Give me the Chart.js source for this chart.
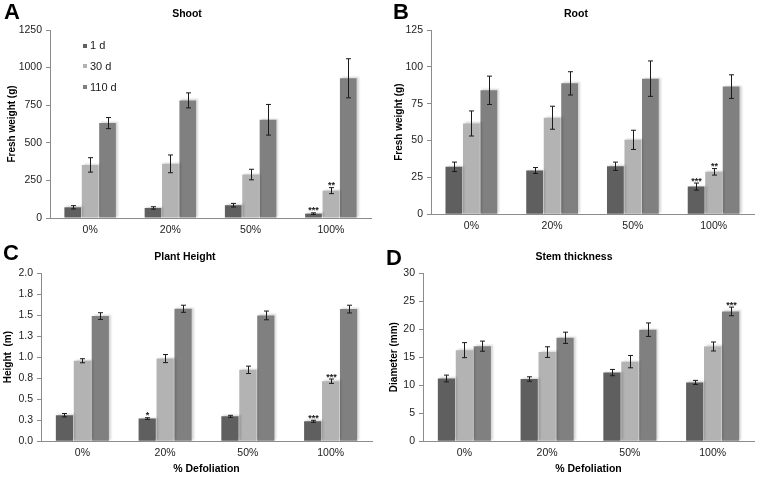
<!DOCTYPE html>
<html><head><meta charset="utf-8">
<script src="https://cdn.jsdelivr.net/npm/chart.js@4.4.1/dist/chart.umd.min.js"></script>
<style>
html,body{margin:0;padding:0;background:#fff;}
body{width:764px;height:478px;position:relative;overflow:hidden;font-family:"Liberation Sans",Arial,sans-serif;}
.panel{position:absolute;width:382px;height:239px;}
.letter{position:absolute;font-weight:bold;font-size:22px;line-height:22px;color:#000;}
.title{position:absolute;font-weight:bold;font-size:10.5px;line-height:10.5px;color:#000;width:200px;text-align:center;}
</style></head><body>
<div class="panel" style="left:0;top:0"><canvas id="cA"></canvas></div>
<div class="panel" style="left:382px;top:0"><canvas id="cB"></canvas></div>
<div class="panel" style="left:0;top:239px"><canvas id="cC"></canvas></div>
<div class="panel" style="left:382px;top:239px"><canvas id="cD"></canvas></div>
<div class="letter" style="left:4px;top:1px">A</div>
<div class="letter" style="left:393px;top:1px">B</div>
<div class="letter" style="left:3px;top:242px">C</div>
<div class="letter" style="left:386px;top:247px">D</div>
<div class="title" style="left:87px;top:8px">Shoot</div>
<div class="title" style="left:476px;top:8px">Root</div>
<div class="title" style="left:85px;top:251px">Plant Height</div>
<div class="title" style="left:474px;top:251px">Stem thickness</div>
<script>
// ---- data ----
const categories = ['0%', '20%', '50%', '100%'];
const seriesNames = ['1 d', '30 d', '110 d'];
const seriesColors = ['#5f5f5f', '#b3b3b3', '#808080'];

// A: Shoot fresh weight (g)
const shoot1d = [71, 67, 85, 29];
const shoot30d = [353, 360, 289, 182];
const shoot110d = [631, 782, 653, 929];
const shoot1dErr = [11, 8, 12, 5];
const shoot30dErr = [48, 59, 35, 20];
const shoot110dErr = [37, 50, 102, 130];
const shoot1dSig = ['', '', '', '***'];
const shoot30dSig = ['', '', '', '**'];
const shoot110dSig = ['', '', '', ''];
const shootTicks = [0, 250, 500, 750, 1000, 1250];
const shootTickLabels = ['0', '250', '500', '750', '1000', '1250'];

// B: Root fresh weight (g)
const root1d = [32.2, 29.7, 32.6, 18.8];
const root30d = [61.6, 65.5, 50.5, 28.8];
const root110d = [84.1, 88.8, 92.0, 86.6];
const root1dErr = [3.2, 2.0, 2.8, 2.4];
const root30dErr = [8.5, 7.8, 6.5, 2.2];
const root110dErr = [9.6, 7.9, 12.0, 8.0];
const root1dSig = ['', '', '', '***'];
const root30dSig = ['', '', '', '**'];
const root110dSig = ['', '', '', ''];
const rootTicks = [0, 25, 50, 75, 100, 125];
const rootTickLabels = ['0', '25', '50', '75', '100', '125'];

// C: Plant height (m)
const height1d = [0.31, 0.27, 0.297, 0.238];
const height30d = [0.957, 0.983, 0.849, 0.714];
const height110d = [1.488, 1.575, 1.496, 1.571];
const height1dErr = [0.02, 0.01, 0.012, 0.012];
const height30dErr = [0.024, 0.048, 0.044, 0.026];
const height110dErr = [0.04, 0.042, 0.052, 0.046];
const height1dSig = ['', '*', '', '***'];
const height30dSig = ['', '', '', '***'];
const height110dSig = ['', '', '', ''];
const heightTicks = [0, 0.25, 0.5, 0.75, 1.0, 1.25, 1.5, 1.75, 2.0];
const heightTickLabels = ['0.0', '0.3', '0.5', '0.8', '1.0', '1.3', '1.5', '1.8', '2.0'];

// D: Stem thickness, diameter (mm)
const stem1d = [11.2, 11.1, 12.25, 10.5];
const stem30d = [16.25, 15.9, 14.2, 16.9];
const stem110d = [16.96, 18.45, 19.9, 23.15];
const stem1dErr = [0.6, 0.4, 0.56, 0.36];
const stem30dErr = [1.34, 0.95, 1.1, 0.8];
const stem110dErr = [0.9, 1.0, 1.2, 0.77];
const stem1dSig = ['', '', '', ''];
const stem30dSig = ['', '', '', ''];
const stem110dSig = ['', '', '', '***'];
const stemTicks = [0, 5, 10, 15, 20, 25, 30];
const stemTickLabels = ['0', '5', '10', '15', '20', '25', '30'];

// ---- plugins ----
const FONT = '"Liberation Sans", Arial, sans-serif';
Chart.defaults.font.family = FONT;

const shadowPlugin = {
  id: 'barShadow',
  beforeDatasetDraw(chart) {
    const ctx = chart.ctx;
    ctx.save();
    ctx.shadowColor = 'rgba(0,0,0,0.16)';
    ctx.shadowOffsetX = 2;
    ctx.shadowOffsetY = -1;
    ctx.shadowBlur = 2;
  },
  afterDatasetDraw(chart) { chart.ctx.restore(); }
};

const errPlugin = {
  id: 'errbars',
  afterDatasetsDraw(chart, args, opts) {
    if (!opts || !opts.errors) return;
    const ctx = chart.ctx, ys = chart.scales.y;
    ctx.save();
    chart.data.datasets.forEach((ds, di) => {
      const meta = chart.getDatasetMeta(di);
      const errs = opts.errors[di], sig = opts.sig[di];
      meta.data.forEach((bar, i) => {
        const v = ds.data[i], e = errs[i];
        const x = Math.round(bar.x) + 0.5;
        const yt = ys.getPixelForValue(v + e), yb = ys.getPixelForValue(v - e);
        ctx.strokeStyle = '#1a1a1a';
        ctx.lineWidth = 1;
        ctx.beginPath();
        ctx.moveTo(x, yt); ctx.lineTo(x, yb);
        ctx.moveTo(x - 2.5, yt); ctx.lineTo(x + 2.5, yt);
        ctx.moveTo(x - 2.5, yb); ctx.lineTo(x + 2.5, yb);
        ctx.stroke();
        if (sig[i]) {
          ctx.fillStyle = '#1a1a1a';
          ctx.font = 'bold 9px ' + FONT;
          ctx.textAlign = 'center';
          ctx.textBaseline = 'alphabetic';
          ctx.fillText(sig[i], x, yt + 0.5);
        }
      });
    });
    ctx.restore();
  }
};

const innerLegend = {
  id: 'innerLegend',
  afterDraw(chart, args, opts) {
    if (!opts || !opts.show) return;
    const ctx = chart.ctx;
    ctx.save();
    chart.data.datasets.forEach((ds, i) => {
      const y = opts.y[i];
      ctx.fillStyle = ds.backgroundColor;
      ctx.fillRect(opts.x, Math.round(y - 2), 4, 4);
      ctx.fillStyle = '#1a1a1a';
      ctx.font = '11px ' + FONT;
      ctx.textAlign = 'left';
      ctx.textBaseline = 'middle';
      ctx.fillText(ds.label, opts.x + 7, y + 0.5);
    });
    ctx.restore();
  }
};

function makeChart(id, cfg) {
  const datasets = cfg.values.map((vals, i) => ({
    label: seriesNames[i],
    data: vals,
    backgroundColor: seriesColors[i],
    borderWidth: 0,
    categoryPercentage: 0.65,
    barPercentage: 0.96
  }));
  const yTitle = {display: true, text: cfg.yTitle, color: '#000',
    font: {size: 10, weight: 'bold', family: FONT}, padding: {top: cfg.yTitlePad, bottom: 0}};
  const xTitle = cfg.xTitle ? {display: true, text: cfg.xTitle, color: '#000',
    font: {size: 10.5, weight: 'bold', family: FONT}, padding: {top: 0, bottom: 2.7}} : {display: false};
  return new Chart(document.getElementById(id), {
    type: 'bar',
    data: {labels: categories, datasets},
    plugins: [shadowPlugin, errPlugin, innerLegend],
    options: {
      responsive: true,
      maintainAspectRatio: false,
      animation: false,
      layout: {padding: {top: cfg.top, right: cfg.right, bottom: 0, left: 0}},
      plugins: {
        legend: {display: false},
        title: {display: false},
        tooltip: {enabled: false},
        errbars: {errors: cfg.errors, sig: cfg.sig},
        innerLegend: cfg.legend || {show: false}
      },
      scales: {
        x: {
          grid: {display: false, drawTicks: false},
          border: {display: true, color: '#8c8c8c', width: 1},
          ticks: {font: {size: 10.5}, color: '#222', padding: 6, maxRotation: 0},
          title: xTitle,
          afterFit: s => { s.height = 239 - cfg.bottom; }
        },
        y: {
          min: 0, max: cfg.ticks[cfg.ticks.length - 1],
          afterBuildTicks: s => { s.ticks = cfg.ticks.map(v => ({value: v})); },
          ticks: {font: {size: 10.5}, color: '#222', padding: 4,
            callback: (v, i) => cfg.tickLabels[i]},
          grid: {display: true, drawOnChartArea: false, drawTicks: true, tickLength: 4, color: '#8c8c8c'},
          border: {display: true, color: '#8c8c8c', width: 1},
          title: yTitle,
          afterFit: s => { s.width = cfg.left; }
        }
      }
    }
  });
}

makeChart('cA', {
  values: [shoot1d, shoot30d, shoot110d],
  errors: [shoot1dErr, shoot30dErr, shoot110dErr],
  sig: [shoot1dSig, shoot30dSig, shoot110dSig],
  ticks: shootTicks, tickLabels: shootTickLabels,
  yTitle: 'Fresh weight (g)', yTitlePad: 6,
  top: 30, right: 11, left: 50, bottom: 218,
  legend: {show: true, x: 83, y: [45.7, 66, 87]}
});
makeChart('cB', {
  values: [root1d, root30d, root110d],
  errors: [root1dErr, root30dErr, root110dErr],
  sig: [root1dSig, root30dSig, root110dSig],
  ticks: rootTicks, tickLabels: rootTickLabels,
  yTitle: 'Fresh weight (g)', yTitlePad: 11,
  top: 30, right: 10, left: 49, bottom: 214.3
});
makeChart('cC', {
  values: [height1d, height30d, height110d],
  errors: [height1dErr, height30dErr, height110dErr],
  sig: [height1dSig, height30dSig, height110dSig],
  ticks: heightTicks, tickLabels: heightTickLabels,
  yTitle: 'Height  (m)', yTitlePad: 2, xTitle: '% Defoliation',
  top: 34, right: 10, left: 41, bottom: 202.3
});
makeChart('cD', {
  values: [stem1d, stem30d, stem110d],
  errors: [stem1dErr, stem30dErr, stem110dErr],
  sig: [stem1dSig, stem30dSig, stem110dSig],
  ticks: stemTicks, tickLabels: stemTickLabels,
  yTitle: 'Diameter (mm)', yTitlePad: 6.5, xTitle: '% Defoliation',
  top: 34, right: 10, left: 41, bottom: 202.3
});
</script>
</body></html>
